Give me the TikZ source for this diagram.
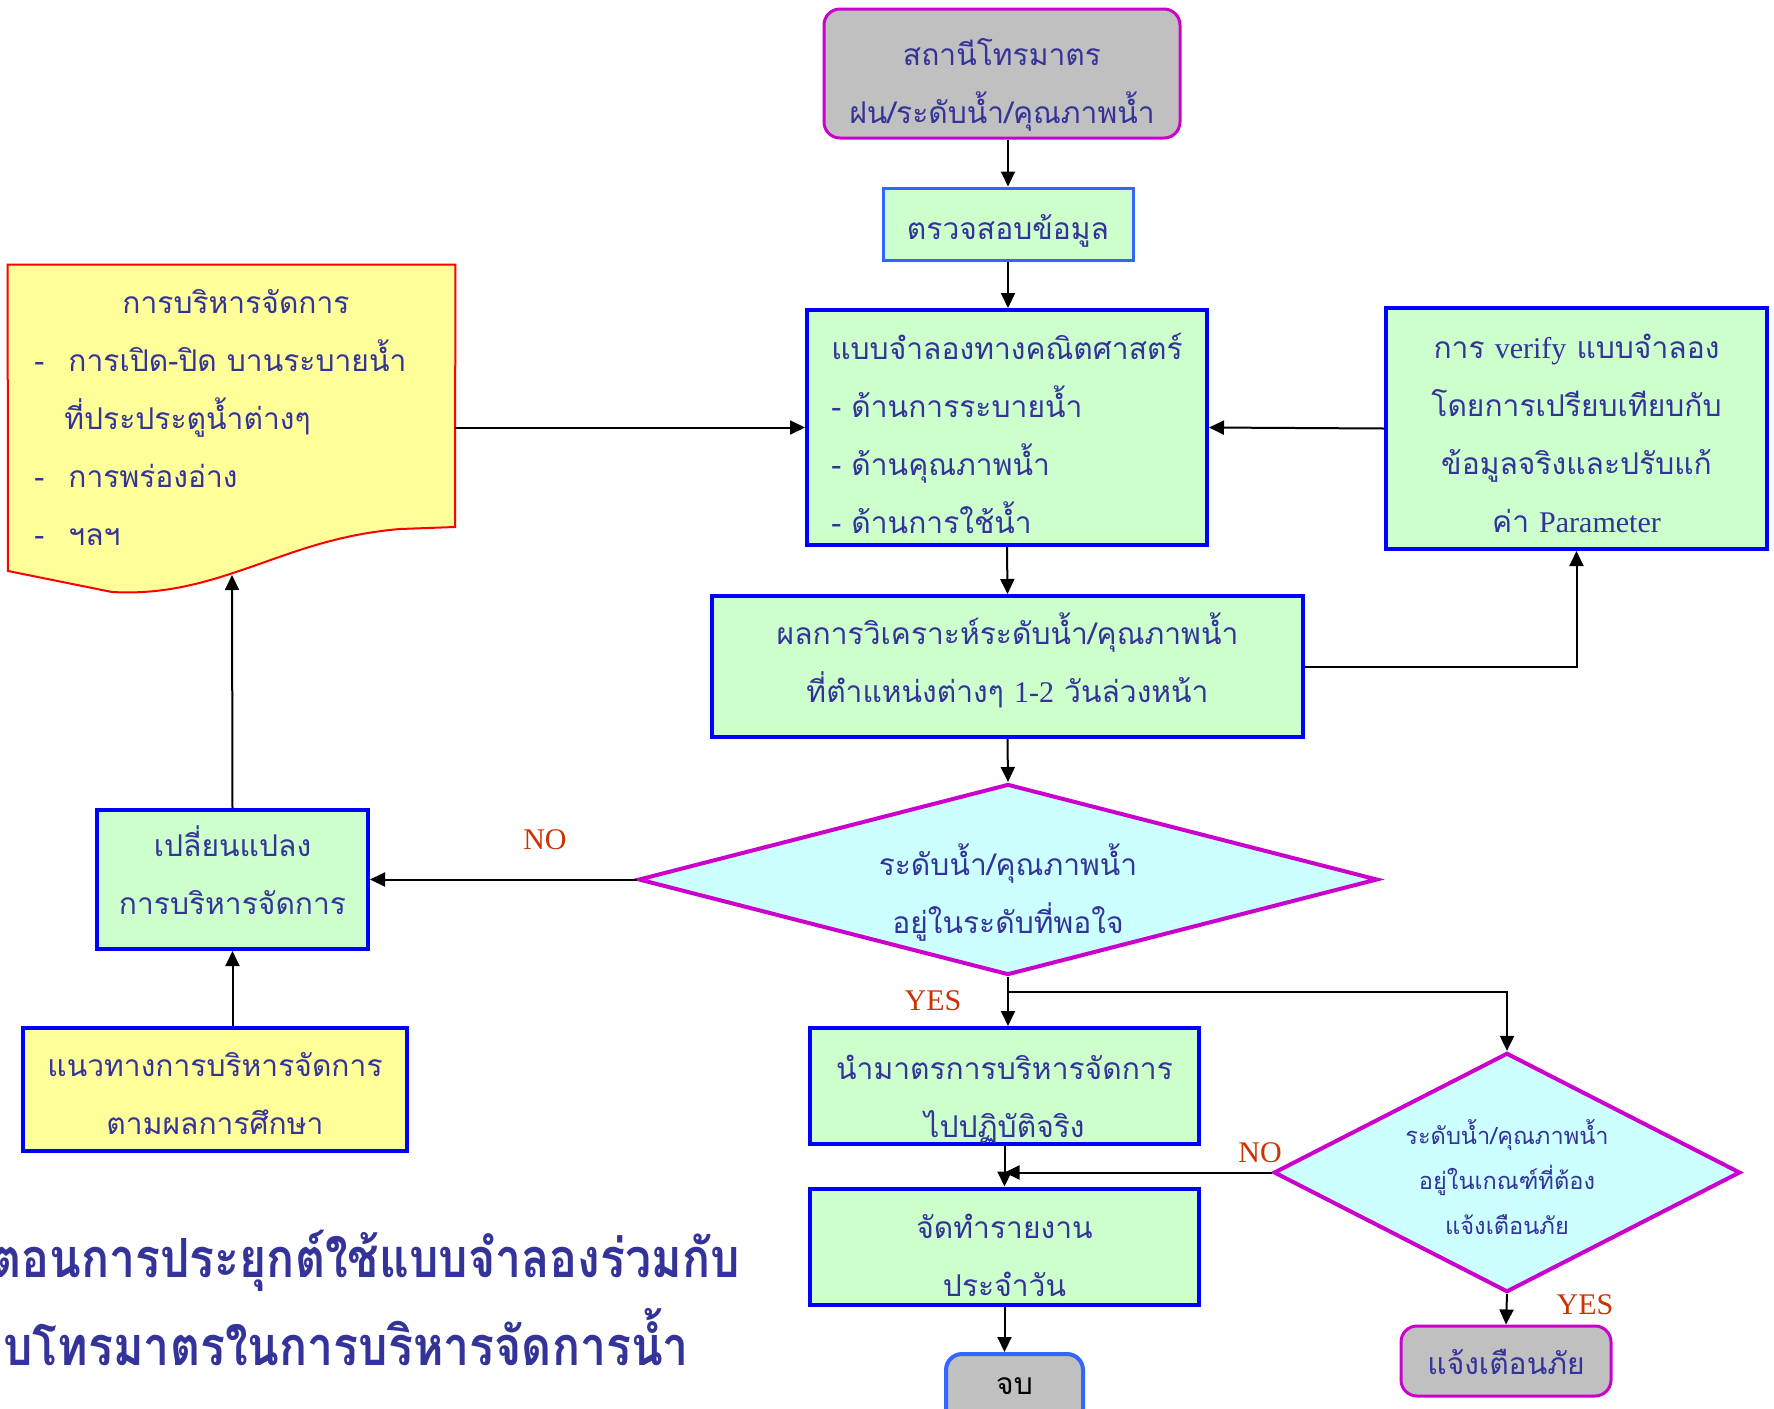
\documentclass[tikz,border=0pt]{standalone}
\usepackage{fontspec}
\setmainfont{Liberation Serif}
\newfontfamily\thaifont[Script=Thai]{Loma}
\newfontfamily\latfont{Liberation Serif}
\newcommand{\lat}[1]{{\latfont #1}}
% move a block of lines down without changing its size
\newcommand{\shiftdown}[2]{\raisebox{-#1}[\height][\depth]{\begin{tabular}{@{}c@{}}#2\end{tabular}}}
\usetikzlibrary{arrows.meta,shapes.geometric,positioning}

\definecolor{inkblue}{HTML}{333399}
\definecolor{mintfill}{HTML}{CCFFCC}
\definecolor{lemonfill}{HTML}{FFFF99}
\definecolor{aquafill}{HTML}{CCFFFF}
\definecolor{greyfill}{HTML}{C0C0C0}
\definecolor{plumline}{HTML}{CC00CC}
\definecolor{blueline}{HTML}{0000FF}
\definecolor{skyline}{HTML}{3366FF}
\definecolor{rustlabel}{HTML}{CC3300}

\newcommand{\bodysize}{\thaifont\fontsize{15}{29}\selectfont}
\newcommand{\smallsize}{\thaifont\fontsize{11.8}{22.5}\selectfont}

\tikzset{
  box/.style={draw=blueline, line width=2pt, fill=mintfill, text=inkblue,
    font=\bodysize, align=center, inner sep=0pt},
  yellowbox/.style={box, fill=lemonfill},
  terminal/.style={draw=plumline, line width=1.5pt, fill=greyfill, text=inkblue,
    font=\bodysize, align=center, inner sep=0pt, rounded corners=8pt},
  decision/.style={diamond, draw=plumline, line width=2pt, fill=aquafill, text=inkblue,
    font=\bodysize, align=center, inner sep=0pt},
  answer/.style={text=rustlabel, font=\latfont\fontsize{15}{18}\selectfont, inner sep=0pt},
  link/.style={line width=1pt, -{Triangle[length=7.5pt,width=7pt]}},
}

\begin{document}
\begin{tikzpicture}[x=0.5pt,y=0.5pt,yscale=-1]
\useasboundingbox (0,0) rectangle (1774,1409);
\fill[white] (0,0) rectangle (1774,1409);

%Shape: Terminal
\node[terminal, minimum width=178pt, minimum height=64.5pt] (station) at (1002,73.5)
  {\shiftdown{4.8pt}{สถานีโทรมาตร\\ฝน/ระดับน้ำ/คุณภาพน้ำ}};
%Shape: Rectangle
\node[box, draw=skyline, line width=1.5pt, minimum width=125pt, minimum height=36pt] (check) at (1008,224)
  {\shiftdown{2pt}{ตรวจสอบข้อมูล}};
\node[box, minimum width=200pt, minimum height=117.5pt] (model) at (1007,427.5)
  {\raisebox{-3.7pt}[\height][\depth]{\begin{tabular}{@{}l@{}}แบบจำลองทางคณิตศาสตร์\\- ด้านการระบายน้ำ\\- ด้านคุณภาพน้ำ\\- ด้านการใช้น้ำ\end{tabular}}};
\node[box, minimum width=190.5pt, minimum height=120.5pt] (verify) at (1576.5,428.5)
  {\shiftdown{2.8pt}{การ \lat{verify} แบบจำลอง\\โดยการเปรียบเทียบกับ\\ข้อมูลจริงและปรับแก้\\ค่า \lat{Parameter}}};
\node[box, minimum width=295.5pt, minimum height=70.5pt] (result) at (1007.5,666.5)
  {\shiftdown{-2.5pt}{ผลการวิเคราะห์ระดับน้ำ/คุณภาพน้ำ\\ที่ตำแหน่งต่างๆ \lat{1-2} วันล่วงหน้า}};

%Shape: Diamond
\node[decision, aspect=3.87, minimum width=369.5pt, minimum height=95.5pt] (check1) at (1008,879.5)
  {\shiftdown{6.8pt}{ระดับน้ำ/คุณภาพน้ำ\\อยู่ในระดับที่พอใจ}};

\node[box, minimum width=135.5pt, minimum height=69.5pt] (change) at (232.5,879.5)
  {\shiftdown{-3pt}{เปลี่ยนแปลง\\การบริหารจัดการ}};
\node[yellowbox, minimum width=192pt, minimum height=61.5pt] (guide) at (215,1089.5)
  {\shiftdown{2.3pt}{แนวทางการบริหารจัดการ\\ตามผลการศึกษา}};

%Shape: Document
\node[minimum width=223.5pt, minimum height=131pt, inner sep=0pt] (doc) at (231.5,396) {};
\draw[red, line width=1pt, fill=lemonfill] (doc.north west) -- (doc.north east) -- (455,527)
  -- (400,529) .. controls (330,535) and (285,556) .. (233,573)
  .. controls (185,589) and (150,594) .. (112,592) -- (8,571) -- cycle;
\node[text=inkblue, font=\bodysize, inner sep=0pt, anchor=west] (doctext) at (34,418)
  {\begin{tabular}{@{}l@{\hspace{12pt}}l@{}}
   \multicolumn{2}{@{}l@{}}{\hspace{44pt}การบริหารจัดการ}\\
   - & การเปิด-ปิด บานระบายน้ำ\\
     & \hspace{-2pt}ที่ประประตูน้ำต่างๆ\\
   - & การพร่องอ่าง\\
   - & ฯลฯ
   \end{tabular}};
\coordinate (docbot) at (232,575);

\node[box, minimum width=194.5pt, minimum height=58pt] (apply) at (1004.5,1086)
  {\shiftdown{5.6pt}{นำมาตรการบริหารจัดการ\\ไปปฏิบัติจริง}};
\node[box, minimum width=194.5pt, minimum height=57.5pt] (report) at (1004.5,1246.5)
  {\shiftdown{4.5pt}{จัดทำรายงาน\\ประจำวัน}};
\node[decision, font=\smallsize, aspect=1.95, minimum width=231pt, minimum height=118.5pt] (check2) at (1507,1172.5)
  {\shiftdown{4.2pt}{ระดับน้ำ/คุณภาพน้ำ\\อยู่ในเกณฑ์ที่ต้อง\\แจ้งเตือนภัย}};
\node[terminal, minimum width=105pt, minimum height=35pt] (warn) at (1506,1361)
  {\shiftdown{1pt}{แจ้งเตือนภัย}};
\node[terminal, draw=skyline, line width=2pt, text=black, minimum width=68.5pt, minimum height=36pt] (finish) at (1014.5,1390)
  {\shiftdown{-3.5pt}{จบ}};

% Text Node
\node[text=inkblue, font=\thaifont\bfseries\fontsize{27}{44}\selectfont, align=left, anchor=west, inner sep=0pt] (title) at (-9,1298)
  {\scalebox{0.86}[1]{ตอนการประยุกต์ใช้แบบจำลองร่วมกับ}\\\hspace{6pt}\scalebox{0.86}[1]{บโทรมาตรในการบริหารจัดการน้ำ}};

% Text Node
\node[answer] (no1) at (545,840) {NO};
\node[answer] (yes1) at (933,1001) {YES};
\node[answer] (no2) at (1260,1153) {NO};
\node[answer] (yes2) at (1585,1305) {YES};

%Connectors
\coordinate (split) at (1008,992);
\draw[link] (check.north |- station.south) -- (check.north);
\draw[link] (check.south) -- (check.south |- model.north);
\draw[link] (model.south) -- (result.north);
\draw[link] (result.south) -- (check1.north);
\draw[link] (result.east) -| (verify.south);
\draw[link] (verify.west) -- (model.east);
\draw[link] (doc.east |- model.west) -- (model.west);
\draw[link] (check1.west) -- (change.east);
\draw[link] (change.north) -- (docbot);
\draw[link] (guide.north -| change.south) -- (change.south);
\draw[link] (check1.south) -- (check1.south |- apply.north);
\draw[link] (split) -| (check2.north);
\draw[link] (apply.south) -- (report.north);
\draw[link] (check2.west) -- (check2.west -| report.north);
\draw[link] (check2.south) -- (warn.north);
\draw[link] (report.south) -- (report.south |- finish.north);

\end{tikzpicture}
\end{document}
